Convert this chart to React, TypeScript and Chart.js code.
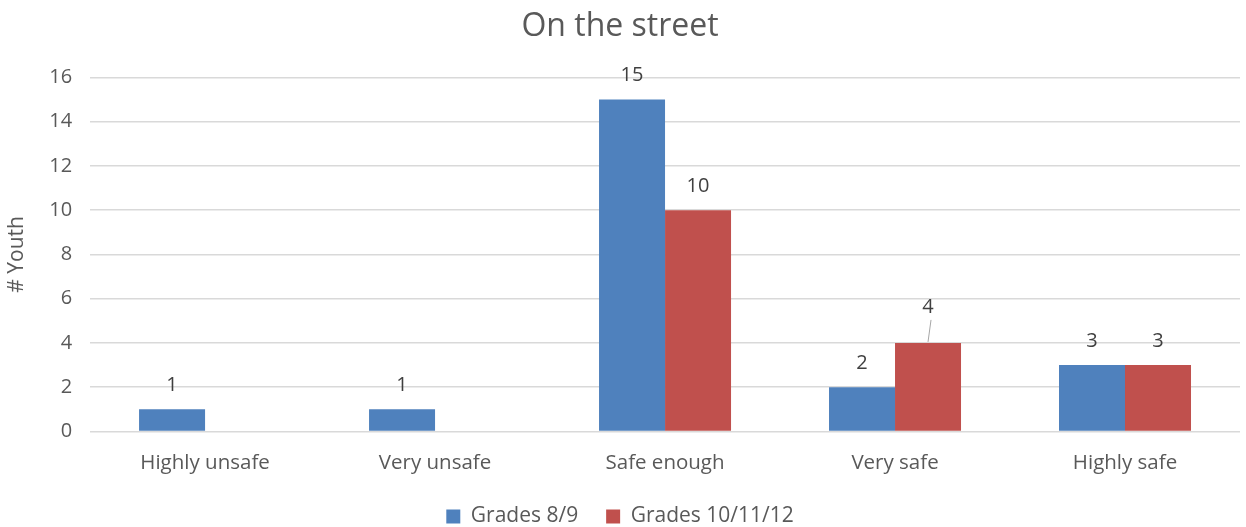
import React, { useEffect, useRef } from "react";
import { Chart, registerables } from "chart.js";

Chart.register(...registerables);

const categories = ["Highly unsafe", "Very unsafe", "Safe enough", "Very safe", "Highly safe"];
const grades89 = [1, 1, 15, 2, 3];
const grades101112 = [0, 0, 10, 4, 3];
const seriesNames = ["Grades 8/9", "Grades 10/11/12"];
const yTicks = [0, 2, 4, 6, 8, 10, 12, 14, 16];

const FONT = "'Open Sans', 'Liberation Sans', sans-serif";
const TEXT = "#595959";

const labelPlugin = {
  id: "barLabels",
  beforeLayout(chart: any) {
    const lg = chart.legend;
    if (lg && !lg.__shifted) {
      lg.__shifted = true;
      const d = lg.draw.bind(lg);
      lg.draw = function () {
        const c = this.ctx;
        c.save();
        c.translate(0, -8);
        d();
        c.restore();
      };
    }
  },
  afterDatasetsDraw(chart: any) {
    const ctx = chart.ctx;
    ctx.save();
    ctx.font = `20px ${FONT}`;
    ctx.fillStyle = "#404040";
    ctx.textAlign = "center";
    ctx.textBaseline = "middle";
    chart.data.datasets.forEach((ds: any, di: number) => {
      const meta = chart.getDatasetMeta(di);
      meta.data.forEach((bar: any, i: number) => {
        const v = ds.data[i];
        if (!v) return;
        const extra = (ds.labelLift && ds.labelLift[i]) || 0;
        const y = bar.y - 24 - extra;
        ctx.fillText(String(v), bar.x, y);
        if (extra) {
          ctx.strokeStyle = "#a6a6a6";
          ctx.lineWidth = 1;
          ctx.beginPath();
          ctx.moveTo(bar.x + 3, y + 13);
          ctx.lineTo(bar.x, bar.y - 1);
          ctx.stroke();
        }
      });
    });
    ctx.restore();
  },
};

export default function App() {
  const ref = useRef<HTMLCanvasElement>(null);
  useEffect(() => {
    const chart = new Chart(ref.current!, {
      type: "bar",
      data: {
        labels: categories,
        datasets: [
          {
            label: seriesNames[0],
            data: grades89,
            backgroundColor: "#4F81BD",
            borderWidth: 0,
            categoryPercentage: 0.574,
            barPercentage: 1,
          } as any,
          {
            label: seriesNames[1],
            data: grades101112,
            backgroundColor: "#C0504D",
            borderWidth: 0,
            categoryPercentage: 0.574,
            barPercentage: 1,
            labelLift: [0, 0, 0, 12, 0],
          } as any,
        ],
      },
      options: {
        animation: false,
        responsive: false,
        layout: { padding: { left: 0, right: 6, top: 8, bottom: -18 } },
        plugins: {
          title: {
            display: true,
            text: "On the street",
            color: TEXT,
            font: { family: FONT, size: 32, weight: "normal" },
            padding: { top: 0, bottom: 31 },
          },
          legend: {
            position: "bottom",
            labels: {
              color: TEXT,
              font: { family: FONT, size: 21 },
              boxWidth: 14,
              boxHeight: 14,
              padding: 28,
            },
          },
          tooltip: { enabled: false },
        },
        scales: {
          x: {
            grid: { display: false },
            border: { display: false },
            ticks: { color: TEXT, font: { family: FONT, size: 20.5 }, padding: 11 },
          },
          y: {
            min: 0,
            max: 16,
            afterBuildTicks: (axis: any) => {
              axis.ticks = yTicks.map((v) => ({ value: v }));
            },
            grid: { color: "#d9d9d9", lineWidth: 1.5, drawTicks: false },
            border: { display: false },
            ticks: { color: TEXT, font: { family: FONT, size: 20 }, padding: 18 },
            title: {
              display: true,
              text: "# Youth",
              color: TEXT,
              font: { family: FONT, size: 21 },
              padding: { bottom: 2 },
            },
          },
        },
      },
      plugins: [labelPlugin],
    });
    return () => chart.destroy();
  }, []);
  return (
    <div style={{ position: "absolute", left: 0, top: 0, width: 1246, height: 527, background: "#fff" }}>
      <canvas ref={ref} width={1246} height={527} />
    </div>
  );
}
